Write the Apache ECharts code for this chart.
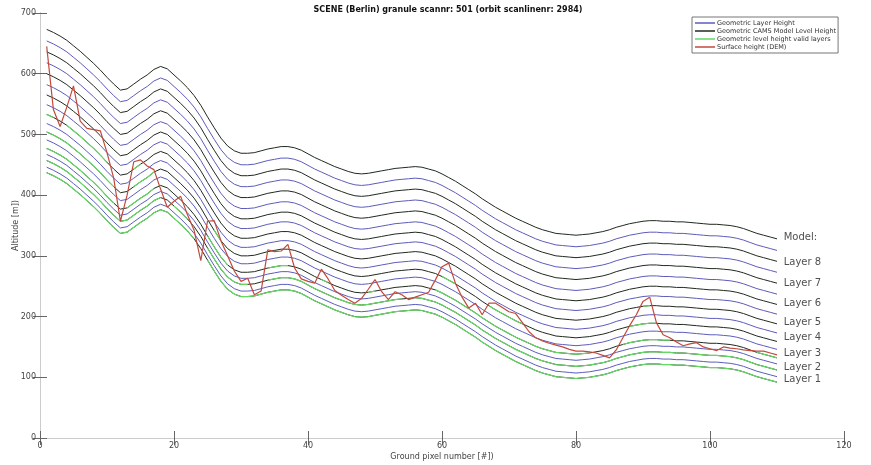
<!DOCTYPE html>
<html>
<head>
<meta charset="utf-8">
<script src="https://cdn.jsdelivr.net/npm/echarts@6/dist/echarts.min.js"></script>
<style>
  html, body { margin: 0; padding: 0; background: #fff; }
  #chart { width: 871px; height: 465px; }
</style>
</head>
<body>
<div id="chart"></div>
<script>
// Ground pixels along the scanline
const groundPixel = Array.from({ length: 110 }, (_, i) => i + 1);

// Height of the lowest CAMS model level [m]
const lowestLevelHeight = [
  437, 432, 426, 419, 410, 401, 391, 381, 370, 358,
  347, 337, 339, 347, 355, 362, 371, 376, 372, 362,
  352, 341, 328, 312, 293, 275, 258, 245, 237, 233,
  233, 234, 237, 240, 242, 244, 244, 242, 238, 232,
  226, 221, 216, 211, 207, 203, 200, 199, 200, 202,
  204, 206, 208, 209, 210, 211, 210, 207, 204, 199,
  193, 187, 180, 173, 166, 158, 151, 144, 138, 132,
  126, 121, 116, 111, 107, 104, 101, 100, 99, 98,
  99, 100, 102, 104, 107, 111, 114, 117, 119, 121,
  122, 122, 121, 121, 120, 120, 119, 118, 117, 116,
  116, 115, 114, 112, 109, 105, 101, 98, 95, 92
];

// CAMS model level heights above the lowest level [m]
const levelOffset = [0, 20, 40, 67, 96, 128, 163, 199, 236];
// Geometric layer (mid-layer) heights above the lowest level [m]
const layerOffset = [9, 30, 54, 81, 112, 145, 181, 217];

// Surface height from the DEM [m]
const surfaceHeight = [
  645, 541, 513, 545, 580, 522, 510, 508, 506, 470,
  428, 357, 400, 455, 458, 448, 442, 410, 380, 390,
  398, 368, 342, 292, 357, 358, 325, 300, 275, 258,
  263, 236, 242, 310, 307, 308, 319, 280, 262, 258,
  255, 278, 262, 243, 235, 228, 222, 230, 245, 261,
  241, 228, 241, 236, 228, 232, 236, 240, 260, 282,
  288, 255, 232, 214, 222, 203, 222, 222, 215, 208,
  205, 190, 175, 165, 160, 156, 153, 150, 146, 143,
  143, 142, 140, 136, 132, 145, 165, 185, 203, 225,
  232, 190, 170, 165, 158, 152, 155, 157, 150, 147,
  144, 150, 148, 147, 145, 144, 143, 143, 140, 137
];

// Annotations at the end of the scanline
const layerLabels = ['Layer 1', 'Layer 2', 'Layer 3', 'Layer 4', 'Layer 5', 'Layer 6', 'Layer 7', 'Layer 8', 'Model:'];
const layerLabelHeight = [96, 116, 140, 166, 191, 221, 254, 289, 330];

const xTicks = { min: 0, max: 120, interval: 20 };
const yTicks = { min: 0, max: 700, interval: 100 };

const NAME_LAYER = 'Geometric Layer Height';
const NAME_LEVEL = 'Geometric CAMS Model Level Height';
const NAME_VALID = 'Geometric level height valid layers';
const NAME_DEM = 'Surface height (DEM)';

const COLOR_LAYER = '#5c5cbc';
const COLOR_LEVEL = '#1f2a1f';
const COLOR_VALID = '#66d866';
const COLOR_DEM = '#c24a3c';

const series = [];

levelOffset.forEach((off) => {
  series.push({
    name: NAME_LEVEL, type: 'line', symbol: 'none', showSymbol: false, z: 2,
    color: COLOR_LEVEL,
    lineStyle: { color: COLOR_LEVEL, width: 1 },
    data: groundPixel.map((x, i) => [x, lowestLevelHeight[i] + off])
  });
});

layerOffset.forEach((off) => {
  series.push({
    name: NAME_LAYER, type: 'line', symbol: 'none', showSymbol: false, z: 2,
    color: COLOR_LAYER,
    lineStyle: { color: COLOR_LAYER, width: 1 },
    data: groundPixel.map((x, i) => [x, lowestLevelHeight[i] + off])
  });
});

// Model levels lying below the surface are highlighted
levelOffset.forEach((off) => {
  series.push({
    name: NAME_VALID, type: 'line', symbol: 'none', showSymbol: false, z: 3,
    color: COLOR_VALID, connectNulls: false,
    lineStyle: { color: COLOR_VALID, width: 1.2 },
    data: groundPixel.map((x, i) => {
      const h = lowestLevelHeight[i] + off;
      return [x, h <= surfaceHeight[i] ? h : '-'];
    })
  });
});

series.push({
  name: NAME_DEM, type: 'line', symbol: 'none', showSymbol: false, z: 4,
  color: COLOR_DEM,
  lineStyle: { color: COLOR_DEM, width: 1.2 },
  data: groundPixel.map((x, i) => [x, surfaceHeight[i]])
});

series.push({
  name: 'labels', type: 'scatter', symbolSize: 0, silent: true, z: 5,
  data: layerLabelHeight.map((h) => [111, h]),
  label: {
    show: true, position: 'right', distance: 0,
    formatter: (p) => layerLabels[p.dataIndex],
    fontFamily: 'DejaVu Sans', fontSize: 10, color: '#222'
  }
});

const axisFont = { fontFamily: 'DejaVu Sans', fontSize: 8, color: '#444' };

const option = {
  animation: false,
  backgroundColor: '#fff',
  title: {
    text: 'SCENE (Berlin) granule scannr: 501 (orbit scanlinenr: 2984)',
    left: 443, top: 1, textAlign: 'center',
    textStyle: { fontFamily: 'DejaVu Sans', fontSize: 8, fontWeight: 'bold', color: '#111' }
  },
  legend: {
    orient: 'vertical', left: 692, top: 17,
    data: [NAME_LAYER, NAME_LEVEL, NAME_VALID, NAME_DEM],
    icon: 'rect', itemWidth: 20, itemHeight: 1.5, itemGap: 0,
    padding: [2, 2, 2, 3],
    borderColor: '#777', borderWidth: 1, backgroundColor: '#fff',
    textStyle: { fontFamily: 'DejaVu Sans', fontSize: 6.5, lineHeight: 8, color: '#333', padding: [0, 0, 0, -3] }
  },
  grid: { left: 40, right: 27, top: 13, bottom: 27, containLabel: false, outerBoundsMode: 'none' },
  xAxis: [
    {
      type: 'value', position: 'bottom', ...xTicks,
      name: 'Ground pixel number [#])', nameLocation: 'middle', nameGap: 15,
      nameMoveOverlap: false,
      nameTextStyle: axisFont,
      axisLine: { lineStyle: { color: '#aaa', width: 1 } },
      axisTick: { inside: true, length: 7, lineStyle: { color: '#666' } },
      axisLabel: { ...axisFont, margin: 4 },
      splitLine: { show: false }
    },
    {
      type: 'value', position: 'top', ...xTicks,
      axisLine: { lineStyle: { color: '#ccc', width: 1 } },
      axisTick: { inside: true, length: 7, lineStyle: { color: '#666' } },
      axisLabel: { show: false },
      splitLine: { show: false }
    }
  ],
  yAxis: [
    {
      type: 'value', position: 'left', ...yTicks,
      name: 'Altitude [m])', nameLocation: 'middle', nameGap: 20, nameRotate: 90,
      nameMoveOverlap: false,
      nameTextStyle: axisFont,
      axisLine: { show: true, lineStyle: { color: '#aaa', width: 1 } },
      axisTick: { show: true, inside: true, length: 7, lineStyle: { color: '#666' } },
      axisLabel: { ...axisFont, margin: 4 },
      splitLine: { show: false }
    },
    {
      type: 'value', position: 'right', ...yTicks,
      axisLine: { show: true, lineStyle: { color: '#ccc', width: 1 } },
      axisTick: { show: true, inside: true, length: 7, lineStyle: { color: '#666' } },
      axisLabel: { show: false },
      splitLine: { show: false }
    }
  ],
  series: series
};

const chart = echarts.init(document.getElementById('chart'), null, { renderer: 'canvas' });
chart.setOption(option);
</script>
</body>
</html>
